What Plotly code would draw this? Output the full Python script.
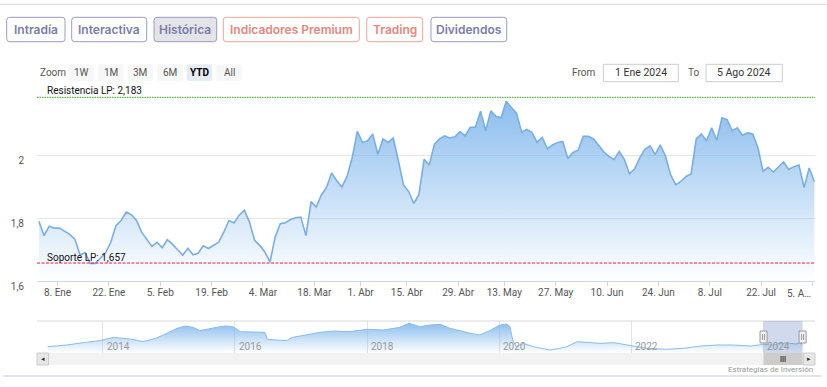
import plotly.graph_objects as go
import pandas as pd

W, H = 827, 387

# ---------------- data ----------------
START_DATE = "2024-01-02"
END_DATE = "2024-08-05"
HOLIDAYS = ["2024-03-29", "2024-04-01", "2024-05-01"]

PRICES = [
    1.79, 1.744, 1.774, 1.768, 1.768, 1.757, 1.748, 1.733, 1.683, 1.69,
    1.656, 1.656, 1.674, 1.69, 1.723, 1.776, 1.792, 1.819, 1.811, 1.792,
    1.755, 1.733, 1.71, 1.723, 1.706, 1.731, 1.717, 1.699, 1.682, 1.704,
    1.683, 1.688, 1.712, 1.703, 1.712, 1.723, 1.755, 1.792, 1.784, 1.809,
    1.825, 1.787, 1.729, 1.713, 1.692, 1.66, 1.74, 1.782, 1.785, 1.795,
    1.801, 1.803, 1.744, 1.852, 1.835, 1.873, 1.897, 1.943, 1.918, 1.898,
    1.932, 1.991, 2.075, 2.04, 2.045, 2.067, 2.002, 2.051, 2.04, 2.054,
    1.981, 1.905, 1.884, 1.846, 1.875, 1.986, 1.968, 2.034, 2.051, 2.061,
    2.054, 2.058, 2.074, 2.061, 2.088, 2.088, 2.139, 2.077, 2.14, 2.123,
    2.118, 2.171, 2.151, 2.133, 2.072, 2.081, 2.072, 2.04, 2.056, 2.02,
    2.032, 2.04, 2.043, 1.989, 2.008, 2.015, 2.059, 2.059, 2.051, 2.031,
    2.01, 1.995, 1.986, 2.011, 1.986, 1.94, 1.956, 1.991, 2.018, 2.029,
    2.002, 2.032, 1.997, 1.938, 1.905, 1.916, 1.932, 1.94, 2.051, 2.067,
    2.045, 2.086, 2.047, 2.118, 2.112, 2.077, 2.086, 2.063, 2.07, 2.067,
    2.024, 1.948, 1.961, 1.946, 1.961, 1.978, 1.954, 1.963, 1.968, 1.897,
    1.959, 1.916,
]

RESISTENCIA = 2.183
SOPORTE = 1.657

Y_TICKS = [1.6, 1.8, 2.0, 2.2]
Y_TEXT = ["1,6", "1,8", "2", ""]

X_TICK_DATES = ["2024-01-08", "2024-01-22", "2024-02-05", "2024-02-19", "2024-03-04",
                "2024-03-18", "2024-04-01", "2024-04-15", "2024-04-29", "2024-05-13",
                "2024-05-27", "2024-06-10", "2024-06-24", "2024-07-08", "2024-07-22",
                "2024-08-05"]
X_TICK_TEXT = ["8. Ene", "22. Ene", "5. Feb", "19. Feb", "4. Mar", "18. Mar", "1. Abr",
               "15. Abr", "29. Abr", "13. May", "27. May", "10. Jun", "24. Jun", "8. Jul",
               "22. Jul", "5. A\u2026"]

HIST_DATES = ["2013-03-01", "2013-06-15", "2013-09-15", "2013-12-15",
              "2014-03-01", "2014-04-20", "2014-06-15", "2014-08-10", "2014-10-20", "2014-12-20",
              "2015-02-15", "2015-04-01", "2015-05-15", "2015-06-20", "2015-08-15", "2015-10-10",
              "2015-11-15", "2015-12-20",
              "2016-02-01", "2016-04-15", "2016-06-15", "2016-06-28", "2016-08-15", "2016-10-10",
              "2016-11-15",
              "2017-02-01", "2017-04-15", "2017-06-28", "2017-09-25", "2017-12-28",
              "2018-04-01", "2018-06-30", "2018-08-20", "2018-10-20", "2018-12-15",
              "2019-02-10", "2019-04-05", "2019-05-30", "2019-07-25", "2019-09-15", "2019-11-10",
              "2020-01-05", "2020-02-12", "2020-03-01", "2020-03-16", "2020-04-05", "2020-05-15",
              "2020-07-08", "2020-10-08", "2020-12-01",
              "2021-01-10", "2021-03-08", "2021-05-01", "2021-07-12", "2021-09-25", "2021-12-05",
              "2022-01-15", "2022-03-28", "2022-07-15", "2022-10-15",
              "2023-01-20", "2023-04-20", "2023-07-20", "2023-10-20", "2023-12-29"]
HIST_VALUES = [1.36, 1.7, 2.17, 2.57,
               3.23, 3.03, 2.83, 2.37, 3.03, 4.03,
               5.03, 5.5, 5.23, 4.57, 5.03, 5.37, 5.5, 5.37,
               4.37, 4.37, 4.23, 2.83, 2.7, 2.57, 3.23,
               3.7, 4.23, 4.5, 4.37, 4.83,
               4.7, 5.23, 6.03, 5.37, 5.7,
               5.83, 5.03, 4.57, 4.03, 3.7, 4.57,
               5.7, 5.9, 5.37, 2.7, 1.36, 2.03, 1.36, 0.7, 1.03,
               1.36, 2.37, 2.17, 2.03, 2.17, 1.7,
               1.36, 1.03, 0.83, 1.03,
               1.5, 1.7, 1.7, 1.5, 1.8]
NAV_YEARS = [2014, 2016, 2018, 2020, 2022, 2024]

TABS = ["Intradía", "Interactiva", "Histórica", "Indicadores Premium", "Trading", "Dividendos"]
ZOOM_BUTTONS = ["1W", "1M", "3M", "6M", "YTD", "All"]
FROM_TEXT = "1 Ene 2024"
TO_TEXT = "5 Ago 2024"
CREDIT = "Estrategias de Inversión"

# ---------------- helpers (page pixel -> paper) ----------------
def px(x):
    return x / W


def py(y):
    return 1 - y / H


def rrect(x0, y0, x1, y1, r=3):
    pts = [
        (x0 + r, y0), (x1 - r, y0), (x1, y0), (x1, y0 + r), (x1, y1 - r), (x1, y1),
        (x1 - r, y1), (x0 + r, y1), (x0, y1), (x0, y1 - r), (x0, y0 + r), (x0, y0), (x0 + r, y0)
    ]
    f = lambda p: f"{px(p[0]):.5f},{py(p[1]):.5f}"
    return (f"M{f(pts[0])} L{f(pts[1])} Q{f(pts[2])} {f(pts[3])} L{f(pts[4])} "
            f"Q{f(pts[5])} {f(pts[6])} L{f(pts[7])} Q{f(pts[8])} {f(pts[9])} "
            f"L{f(pts[10])} Q{f(pts[11])} {f(pts[12])} Z")


FONT = "Roboto"

# trading calendar (daily quotes stamped mid-morning)
days = [d for d in pd.bdate_range(START_DATE, END_DATE) if d.strftime("%Y-%m-%d") not in HOLIDAYS]
x_main = [d + pd.Timedelta(hours=9) for d in days]
tick_pos = [(pd.Timestamp(t) + pd.Timedelta(days=1)).strftime("%Y-%m-%d") if t in HOLIDAYS else t
            for t in X_TICK_DATES]
# the last label is right-aligned (shortened) like the original, drawn as an annotation
axis_text = X_TICK_TEXT[:-1] + [""]

fig = go.Figure()

fig.add_trace(go.Scatter(
    x=x_main, y=PRICES, mode="lines", xaxis="x", yaxis="y",
    line=dict(color="#7aaee2", width=1.6),
    fill="tozeroy",
    fillgradient=dict(type="vertical", start=1.6, stop=2.18,
                      colorscale=[[0, "rgba(124,181,236,0.0)"], [1, "rgba(124,181,236,0.9)"]]),
    hoverinfo="skip",
))

fig.add_trace(go.Scatter(
    x=list(pd.to_datetime(HIST_DATES)) + x_main, y=HIST_VALUES + PRICES,
    mode="lines", xaxis="x2", yaxis="y2",
    line=dict(color="#8bbde9", width=1),
    fill="tozeroy",
    fillgradient=dict(type="vertical", start=0.1, stop=6.2,
                      colorscale=[[0, "rgba(124,181,236,0.0)"], [1, "rgba(124,181,236,0.9)"]]),
    hoverinfo="skip",
))

shapes = []
ann = []

# outer separators
shapes.append(dict(type="line", xref="paper", yref="paper", x0=0, x1=1, y0=py(4.3), y1=py(4.3),
                   line=dict(color="#d4d4dc", width=1)))
shapes.append(dict(type="line", xref="paper", yref="paper", x0=px(3), x1=px(822), y0=py(376), y1=py(376),
                   line=dict(color="#c9c9d6", width=1)))

# tabs
TAB_X = [(6.7, 65), (71.7, 146.7), (154, 216.7), (223.3, 359.3), (366.7, 422.7), (431, 506.7)]
for name, (x0, x1) in zip(TABS, TAB_X):
    salmon = name in ("Indicadores Premium", "Trading")
    active = name == "Histórica"
    border = "#e9a49c" if salmon else "#9c9cbf"
    color = "#e4877c" if salmon else "#7b7ca9"
    fill = "#e3e3ea" if active else "white"
    shapes.append(dict(type="path", xref="paper", yref="paper", path=rrect(x0, 17.3, x1, 41.7, 3),
                       fillcolor=fill, line=dict(color=border, width=1)))
    ann.append(dict(text=name, xref="paper", yref="paper", x=px((x0 + x1) / 2), y=py(29.5),
                    showarrow=False, xanchor="center", yanchor="middle",
                    font=dict(family="Inter", size=12, color=color, weight=600)))

# range selector look-alike
ann.append(dict(text="Zoom", xref="paper", yref="paper", x=px(37.5), y=py(72), showarrow=False,
                xanchor="left", yanchor="middle", font=dict(family=FONT, size=10, color="#555")))
for k, b in enumerate(ZOOM_BUTTONS):
    x0 = 68.3 + 29.6 * k
    x1 = x0 + 25.5
    act = b == "YTD"
    shapes.append(dict(type="path", xref="paper", yref="paper", path=rrect(x0, 64.3, x1, 81, 2),
                       fillcolor="#e6ebf5" if act else "#f7f7f7", line=dict(width=0)))
    ann.append(dict(text=f"<b>{b}</b>" if act else b, xref="paper", yref="paper", x=px((x0 + x1) / 2),
                    y=py(72.3), showarrow=False, xanchor="center", yanchor="middle",
                    font=dict(family=FONT, size=10, color="#000" if act else "#555")))

ann.append(dict(text="From", xref="paper", yref="paper", x=px(597), y=py(72.3), showarrow=False,
                xanchor="right", yanchor="middle", font=dict(family=FONT, size=10, color="#555")))
ann.append(dict(text="To", xref="paper", yref="paper", x=px(700.5), y=py(72.3), showarrow=False,
                xanchor="right", yanchor="middle", font=dict(family=FONT, size=10, color="#555")))
for (x0, x1), t in [((603.3, 678.3), FROM_TEXT), ((706, 782.3), TO_TEXT)]:
    shapes.append(dict(type="rect", xref="paper", yref="paper", x0=px(x0), x1=px(x1), y0=py(64.3), y1=py(81.7),
                       fillcolor="white", line=dict(color="#cccccc", width=1)))
    ann.append(dict(text=t, xref="paper", yref="paper", x=px((x0 + x1) / 2), y=py(72.5), showarrow=False,
                    xanchor="center", yanchor="middle", font=dict(family=FONT, size=10.5, color="#333")))

# last x label, shortened and kept inside the plot like the original
ann.append(dict(text=X_TICK_TEXT[-1], xref="x", yref="paper", x=tick_pos[-1], y=py(293), xshift=1,
                showarrow=False, xanchor="right", yanchor="middle",
                font=dict(family=FONT, size=10, color="#555")))

# support / resistance
def fmt(v):
    return f"{v:.3f}".replace(".", ",")

shapes.append(dict(type="line", xref="x domain", yref="y", x0=0, x1=1, y0=RESISTENCIA, y1=RESISTENCIA,
                   line=dict(color="#5cb040", width=1.3, dash="1.5px,1px")))
shapes.append(dict(type="line", xref="x domain", yref="y", x0=0, x1=1, y0=SOPORTE, y1=SOPORTE,
                   line=dict(color="#e0203c", width=1, dash="3px,1.5px")))
ann.append(dict(text=f"Resistencia LP: {fmt(RESISTENCIA)}", xref="x domain", yref="y", x=0, y=RESISTENCIA,
                xshift=8, yshift=6.5, showarrow=False, xanchor="left", yanchor="middle",
                font=dict(family=FONT, size=10, color="#111")))
ann.append(dict(text=f"Soporte LP: {fmt(SOPORTE)}", xref="x domain", yref="y", x=0, y=SOPORTE,
                xshift=8, yshift=5.5, showarrow=False, xanchor="left", yanchor="middle",
                font=dict(family=FONT, size=10, color="#111")))

# navigator
NAV_TOP, NAV_BOT = 321, 353
shapes.append(dict(type="line", xref="paper", yref="paper", x0=px(37), x1=px(815), y0=py(NAV_TOP), y1=py(NAV_TOP),
                   line=dict(color="#d8d8d8", width=1)))
for yr in NAV_YEARS:
    ann.append(dict(text=str(yr), xref="x2", yref="paper", x=f"{yr}-01-01", y=py(346.5), xshift=2,
                    showarrow=False, xanchor="left", yanchor="middle",
                    font=dict(family=FONT, size=10, color="#999")))
sel0, sel1 = x_main[0], x_main[-1]
shapes.append(dict(type="rect", xref="x2", yref="paper", x0=sel0, x1=sel1, y0=py(NAV_BOT), y1=py(NAV_TOP),
                   fillcolor="rgba(102,133,194,0.3)", line=dict(width=0)))
# scrollbar
shapes.append(dict(type="rect", xref="paper", yref="paper", x0=px(37), x1=px(815), y0=py(365), y1=py(353),
                   fillcolor="#f2f2f2", line=dict(width=0)))
for x0, x1, glyph in [(37, 48.5, "\u25c2"), (803.5, 815, "\u25b8")]:
    shapes.append(dict(type="rect", xref="paper", yref="paper", x0=px(x0), x1=px(x1), y0=py(365), y1=py(353),
                       fillcolor="#e6e6e6", line=dict(color="#cccccc", width=1)))
    ann.append(dict(text=glyph, xref="paper", yref="paper", x=px((x0 + x1) / 2), y=py(359), showarrow=False,
                    xanchor="center", yanchor="middle", font=dict(family="DejaVu Sans", size=7, color="#333")))
shapes.append(dict(type="rect", xref="x2", yref="paper", x0=sel0, x1=sel1, y0=py(365), y1=py(353),
                   fillcolor="#cccccc", line=dict(width=0)))
mid = x_main[len(x_main) // 2]
for dx in (-2, 0, 2):
    shapes.append(dict(type="line", xref="x2", yref="paper", xsizemode="pixel", xanchor=mid, x0=dx, x1=dx,
                       y0=py(362), y1=py(356), line=dict(color="#333", width=1)))
# handles
for a in (sel0, sel1):
    shapes.append(dict(type="rect", xref="x2", yref="paper", xsizemode="pixel", xanchor=a, x0=-3.5, x1=3.5,
                       y0=py(343), y1=py(331), fillcolor="#f2f2f2", line=dict(color="#999", width=1)))
    for dx in (-1, 1):
        shapes.append(dict(type="line", xref="x2", yref="paper", xsizemode="pixel", xanchor=a, x0=dx, x1=dx,
                           y0=py(340), y1=py(334), line=dict(color="#999", width=1)))

ann.append(dict(text=CREDIT, xref="paper", yref="paper", x=px(814.5), y=py(369.5), showarrow=False,
                xanchor="right", yanchor="middle", font=dict(family=FONT, size=8, color="#999")))

fig.update_layout(
    width=W, height=H, autosize=False,
    margin=dict(l=0, r=0, t=0, b=0, pad=0),
    paper_bgcolor="white", plot_bgcolor="white",
    showlegend=False,
    shapes=shapes, annotations=ann,
    xaxis=dict(domain=[px(37), px(815)], anchor="y", type="date", automargin=False,
               range=[START_DATE, "2024-08-05 12:00"],
               rangebreaks=[dict(bounds=["sat", "mon"]), dict(values=HOLIDAYS)],
               tickmode="array", tickvals=tick_pos, ticktext=axis_text,
               ticks="outside", ticklen=4, tickcolor="#ccd6eb", ticklabelstandoff=-2,
               showline=True, linecolor="#ccd6eb", linewidth=1, showgrid=False, zeroline=False,
               tickfont=dict(family=FONT, size=10, color="#555"), fixedrange=True),
    yaxis=dict(domain=[py(281), py(92)], anchor="x", range=[1.6, 2.2], automargin=False,
               tickmode="array", tickvals=Y_TICKS, ticktext=Y_TEXT,
               showgrid=True, gridcolor="#e6e6e6", gridwidth=1, zeroline=False, showline=False,
               ticks="", ticklabelstandoff=12, ticklabelshift=5,
               tickfont=dict(family=FONT, size=10, color="#555"), fixedrange=True),
    xaxis2=dict(domain=[px(37), px(815)], anchor="y2", type="date", automargin=False,
                range=["2013-01-01", "2024-10-13"],
                tickmode="array", tickvals=[f"{y}-01-01" for y in NAV_YEARS],
                showticklabels=False, ticks="", showgrid=True, gridcolor="#e3e3e3",
                showline=False, zeroline=False, fixedrange=True),
    yaxis2=dict(domain=[py(NAV_BOT), py(NAV_TOP)], anchor="x2", range=[0.1, 6.5], automargin=False,
                visible=False, showgrid=False, zeroline=False, fixedrange=True),
)

fig.write_html("out.html", config=dict(displayModeBar=False),
               post_script="document.body.style.margin='0px';")
